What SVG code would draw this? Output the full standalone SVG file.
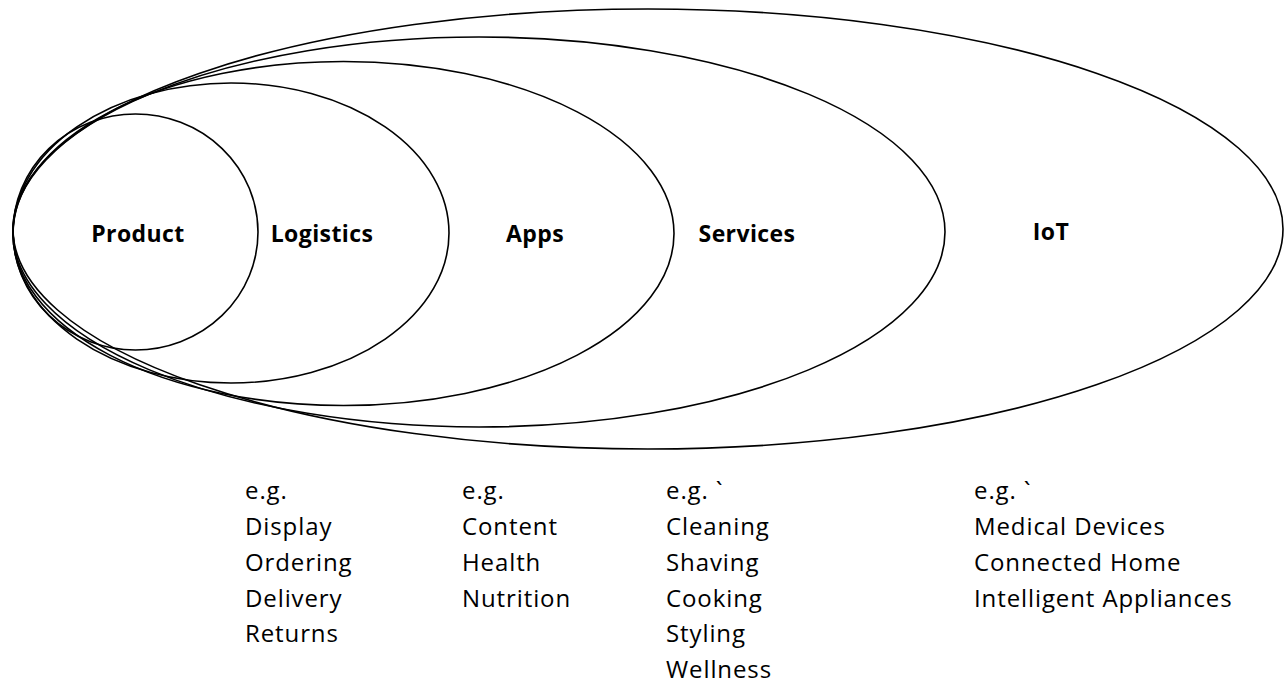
<svg xmlns="http://www.w3.org/2000/svg" width="1284" height="686" viewBox="0 0 1284 686">
  <style>
    .ring { fill: none; stroke: #000; stroke-width: 1.6; }
    .label { font-family: "Open Sans", "Noto Sans", sans-serif; font-weight: bold; font-size: 23px; letter-spacing: 0.4px; fill: #000; text-anchor: middle; }
    .list { font-family: "Open Sans", "Noto Sans", sans-serif; font-size: 24px; letter-spacing: 0.9px; fill: #000; }
  </style>
  <rect width="1284" height="686" fill="#fff"/>

  <!-- nested scopes, drawn outermost first -->
  <g id="iot">
    <ellipse class="ring" cx="648" cy="229" rx="635" ry="220"/>
    <text class="label" x="1051" y="240">IoT</text>
  </g>
  <g id="services">
    <ellipse class="ring" cx="479" cy="232" rx="466" ry="195"/>
    <text class="label" x="747" y="242">Services</text>
  </g>
  <g id="apps">
    <ellipse class="ring" cx="343.5" cy="233.5" rx="330.5" ry="172"/>
    <text class="label" x="535" y="242">Apps</text>
  </g>
  <g id="logistics">
    <ellipse class="ring" cx="231" cy="233" rx="218" ry="150"/>
    <text class="label" x="322" y="242">Logistics</text>
  </g>
  <g id="product">
    <ellipse class="ring" cx="135.5" cy="232" rx="122.5" ry="118"/>
    <text class="label" x="138" y="242">Product</text>
  </g>

  <!-- example lists under each scope -->
  <g id="logistics-examples">
    <text class="list" x="245" y="499">e.g.</text>
    <text class="list" x="245" y="535">Display</text>
    <text class="list" x="245" y="571">Ordering</text>
    <text class="list" x="245" y="607">Delivery</text>
    <text class="list" x="245" y="642">Returns</text>
  </g>
  <g id="apps-examples">
    <text class="list" x="462" y="499">e.g.</text>
    <text class="list" x="462" y="535">Content</text>
    <text class="list" x="462" y="571">Health</text>
    <text class="list" x="462" y="607">Nutrition</text>
  </g>
  <g id="services-examples">
    <text class="list" x="666" y="499">e.g. `</text>
    <text class="list" x="666" y="535">Cleaning</text>
    <text class="list" x="666" y="571">Shaving</text>
    <text class="list" x="666" y="607">Cooking</text>
    <text class="list" x="666" y="642">Styling</text>
    <text class="list" x="666" y="678">Wellness</text>
  </g>
  <g id="iot-examples">
    <text class="list" x="974" y="499">e.g. `</text>
    <text class="list" x="974" y="535">Medical Devices</text>
    <text class="list" x="974" y="571">Connected Home</text>
    <text class="list" x="974" y="607">Intelligent Appliances</text>
  </g>
</svg>
